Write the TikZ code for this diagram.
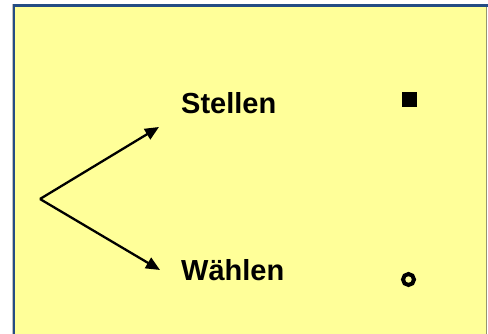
\documentclass[tikz,border=0pt]{standalone}
\usepackage{fontspec}
\setmainfont{Liberation Sans}
\usetikzlibrary{arrows.meta}

\definecolor{boxfill}{RGB}{255,255,153}
\definecolor{boxline}{RGB}{36,76,132}
\definecolor{boxedge}{RGB}{150,150,110}

\tikzset{
  wort/.style={anchor=base west, inner sep=0pt, font=\fontsize{29}{33}\selectfont\bfseries},
  pfeil/.style={line width=2.3pt, -{Triangle[length=14pt,width=12pt]}}
}

\begin{document}
\begin{tikzpicture}[x=1pt, y=1pt]
        \useasboundingbox (0,0) rectangle (488,334);
        \fill[white] (0,0) rectangle (488,334);

        % gelber Kasten
        \fill[boxfill] (14,-5) rectangle (487,328);
        \draw[gray!50, line width=0.8pt] (12.2,-5) -- (12.2,329.8) -- (490,329.8);
        \draw[boxline, line width=2.5pt] (13.8,-5) -- (13.8,328.4) -- (490,328.4);
        \draw[boxedge, line width=1pt] (486.9,-5) -- (486.9,327.2);

        % Verzweigung
        \coordinate (fork) at (40,135);
        \coordinate (zuStellen) at (159,207);
        \coordinate (zuWaehlen) at (160,64);

        \node[wort] (stellen) at (181,220) {Stellen};
        \node[wort] (waehlen) at (181,53) {Wählen};

        \draw[pfeil] (fork) -- (zuStellen);
        \draw[pfeil] (fork) -- (zuWaehlen);

        % Zeichen rechts
        \fill[black] (402,227) rectangle (417,242);
        \draw[black, line width=4pt] (408.5,54.5) circle (5.5);
    \end{tikzpicture}
\end{document}
